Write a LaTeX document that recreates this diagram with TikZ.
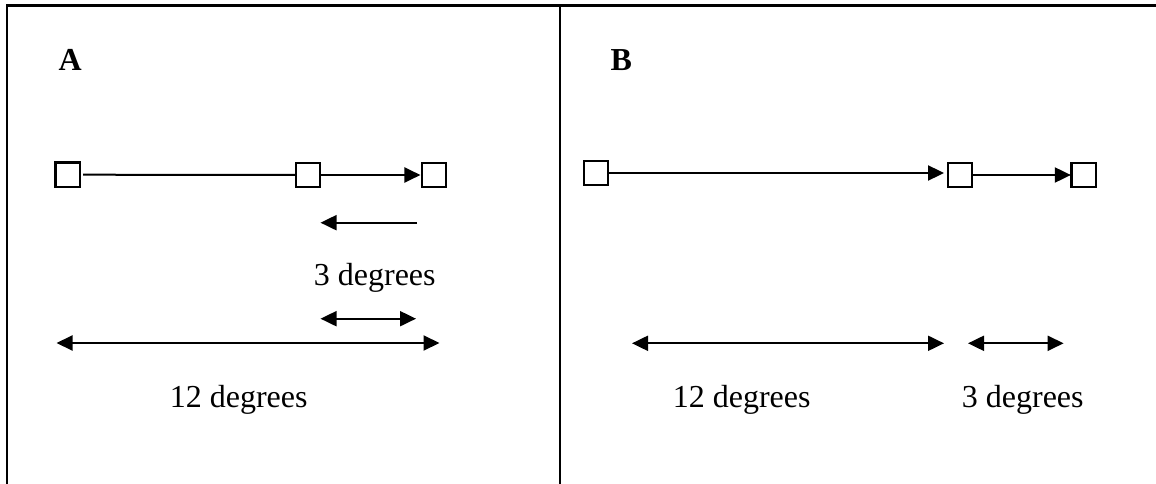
\documentclass[tikz,border=0pt]{standalone}
\usepackage{fontspec}
\setmainfont{Liberation Serif}
\usetikzlibrary{arrows.meta}
\begin{document}
\begin{tikzpicture}[x=1pt,y=-1pt,
  box/.style={draw, line width=2.2pt, minimum size=24.5pt, inner sep=0pt, outer sep=0pt},
  conn/.style={line width=2pt},
  frame/.style={line width=2.4pt},
  tipend/.style={-{Triangle[length=16pt,width=15pt]}},
  tipboth/.style={{Triangle[length=16pt,width=15pt]}-{Triangle[length=16pt,width=15pt]}},
  lbl/.style={inner sep=0pt, anchor=base west, font=\fontsize{32}{38}\selectfont},
  blbl/.style={inner sep=0pt, anchor=base west, font=\fontsize{32}{38}\selectfont\bfseries}]
\useasboundingbox (0,0) rectangle (1156,484);
% frame
\coordinate (ftl) at (7,5.7);
\coordinate (ftr) at (1156,5.7);
\coordinate (fbl) at (7,484);
\coordinate (dtop) at (560,5.7);
\coordinate (dbot) at (560,484);
\draw[frame] (fbl) -- (ftl) -- (ftr);
\draw[frame] (dtop) -- (dbot);
% panel labels
\node[blbl] (la) at (58.5,71) {A};
\node[blbl] (lb) at (610.5,71) {B};
% panel A squares
\node[box] (A1) at (67.8,174.7) {};
\node[box] (A2) at (308,175) {};
\node[box] (A3) at (434,175) {};
\draw[conn, shorten <=3pt] (A1.east) -- (A2.west);
\draw[conn, tipend, shorten >=1.3pt] (A2.east) -- (A3.west);
% panel A dimension arrows
\coordinate (ar1) at (417,222.7);
\coordinate (ar2) at (320.5,222.7);
\draw[conn, tipend] (ar1) -- (ar2);
\node[lbl] (t3a) at (313.7,285.5) {3 degrees};
\coordinate (sd1) at (320.5,318.7);
\coordinate (sd2) at (416,318.7);
\draw[conn, tipboth] (sd1) -- (sd2);
\coordinate (ld1) at (56.5,343);
\coordinate (ld2) at (439.5,343);
\draw[conn, tipboth] (ld1) -- (ld2);
\node[lbl] (t12a) at (169.6,407) {12 degrees};
% panel B squares
\node[box] (B1) at (596,173) {};
\node[box] (B2) at (960,175) {};
\node[box] (B3) at (1083.7,175) {};
\draw[conn, tipend, shorten >=3.7pt] (B1.east) -- (B1.east -| B2.west);
\draw[conn, tipend, shorten >=0.6pt] (B2.east) -- (B3.west);
% panel B dimension arrows
\coordinate (bd1) at (632,343.3);
\coordinate (bd2) at (944,343.3);
\draw[conn, tipboth] (bd1) -- (bd2);
\coordinate (bd3) at (968,343.3);
\coordinate (bd4) at (1063.6,343.3);
\draw[conn, tipboth] (bd3) -- (bd4);
\node[lbl] (t12b) at (672.6,407) {12 degrees};
\node[lbl] (t3b) at (961.7,407) {3 degrees};
\end{tikzpicture}
\end{document}
